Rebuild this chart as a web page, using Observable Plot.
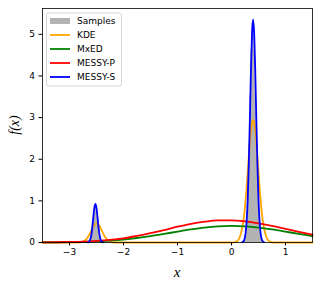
<!DOCTYPE html>
<html><head><meta charset="utf-8">
<script src="https://cdn.jsdelivr.net/npm/d3@7"></script>
<script src="https://cdn.jsdelivr.net/npm/@observablehq/plot@0.6"></script>
<style>body{margin:0;background:#fff}</style>
</head><body><div id="chart"></div>
<script>
// ---- data ----
const xTicks = [-3, -2, -1, 0, 1];
const yTicks = [0, 1, 2, 3, 4, 5];
const seriesNames = ["Samples", "KDE", "MxED", "MESSY-P", "MESSY-S"];

// histogram of samples: bin edges and bin heights (two clusters)
const samplesLeftEdges = [-2.66, -2.64, -2.62, -2.60, -2.58, -2.56, -2.54, -2.52, -2.50, -2.48, -2.46, -2.44, -2.42, -2.40, -2.38];
const samplesLeftHeights = [0.008, 0.03, 0.094, 0.23, 0.46, 0.72, 0.90, 0.90, 0.72, 0.46, 0.23, 0.094, 0.03, 0.008];
const samplesRightEdges = [0.22, 0.24, 0.26, 0.28, 0.30, 0.32, 0.34, 0.36, 0.38, 0.40, 0.42, 0.44, 0.46, 0.48, 0.50, 0.52, 0.54, 0.56, 0.58];
const samplesRightHeights = [0.045, 0.13, 0.33, 0.73, 1.40, 2.38, 3.55, 4.62, 5.27, 5.27, 4.62, 3.55, 2.38, 1.40, 0.73, 0.33, 0.13, 0.045];

// KDE
const kdeX = [-3.5, -2.85, -2.8, -2.75, -2.7, -2.65, -2.6, -2.55, -2.5, -2.45, -2.4, -2.35, -2.3, -2.25, -2.2, -2.15,
  0.0, 0.05, 0.1, 0.125, 0.15, 0.175, 0.2, 0.225, 0.25, 0.275, 0.3, 0.325, 0.35, 0.375, 0.4,
  0.425, 0.45, 0.475, 0.5, 0.525, 0.55, 0.575, 0.6, 0.625, 0.65, 0.675, 0.7, 0.75, 0.8, 1.5];
const kdeY = [0, 0, 0.005, 0.02, 0.062, 0.149, 0.279, 0.406, 0.46, 0.406, 0.279, 0.149, 0.062, 0.02, 0.005, 0,
  0, 0.005, 0.03, 0.06, 0.12, 0.22, 0.36, 0.56, 0.86, 1.24, 1.69, 2.15, 2.56, 2.84, 2.94,
  2.84, 2.56, 2.15, 1.69, 1.24, 0.86, 0.56, 0.36, 0.22, 0.12, 0.06, 0.03, 0.005, 0, 0];

// broad curves on a common grid
const gridX = [-3.5, -3.25, -3.0, -2.75, -2.5, -2.25, -2.0, -1.75, -1.5, -1.25, -1.0, -0.75, -0.5, -0.25, 0.0, 0.25, 0.5, 0.75, 1.0, 1.25, 1.5];
const mxedY = [0.002, 0.004, 0.008, 0.016, 0.027, 0.046, 0.072, 0.108, 0.153, 0.205, 0.261, 0.314, 0.359, 0.389, 0.40, 0.389, 0.359, 0.314, 0.261, 0.205, 0.153];
const messyPY = [0.003, 0.006, 0.012, 0.022, 0.04, 0.065, 0.10, 0.16, 0.225, 0.30, 0.38, 0.45, 0.50, 0.53, 0.533, 0.509, 0.462, 0.399, 0.327, 0.255, 0.189];

// MESSY-S: two sharp peaks
const messySLeftX = [-2.66, -2.64, -2.62, -2.60, -2.58, -2.56, -2.54, -2.52, -2.50, -2.48, -2.46, -2.44, -2.42, -2.40, -2.38];
const messySLeftY = [0.004, 0.016, 0.055, 0.152, 0.335, 0.59, 0.83, 0.93, 0.83, 0.59, 0.335, 0.152, 0.055, 0.016, 0.004];
const messySRightX = [0.20, 0.22, 0.24, 0.26, 0.28, 0.30, 0.32, 0.34, 0.36, 0.38, 0.40, 0.42, 0.44, 0.46, 0.48, 0.50, 0.52, 0.54, 0.56, 0.58, 0.60];
const messySRightY = [0.007, 0.025, 0.078, 0.21, 0.50, 1.03, 1.86, 2.96, 4.12, 5.02, 5.36, 5.02, 4.12, 2.96, 1.86, 1.03, 0.50, 0.21, 0.078, 0.025, 0.007];

// ---- build tables ----
const colors = {"Samples": "gray", "KDE": "orange", "MxED": "green", "MESSY-P": "red", "MESSY-S": "blue"};
function stepTable(edges, heights, seg) {
  return edges.map((e, i) => ({x: e, y: i < heights.length ? heights[i] : 0, seg}));
}
const samplesTable = stepTable(samplesLeftEdges, samplesLeftHeights, "L").concat(stepTable(samplesRightEdges, samplesRightHeights, "R"));
const kdeTable = kdeX.map((x, i) => ({x, y: kdeY[i]}));
const mxedTable = gridX.map((x, i) => ({x, y: mxedY[i]}));
const messyPTable = gridX.map((x, i) => ({x, y: messyPY[i]}));
const messySTable = messySLeftX.map((x, i) => ({x, y: messySLeftY[i], seg: "L"}))
  .concat(messySRightX.map((x, i) => ({x, y: messySRightY[i], seg: "R"})));

const fmt = d => d < 0 ? "\u2212" + Math.abs(d) : String(d);
const lw = 1.8;

const svg = Plot.plot({
  width: 321, height: 286,
  marginLeft: 42, marginRight: 9, marginTop: 8, marginBottom: 44,
  style: {fontFamily: "DejaVu Sans", fontSize: "9px", color: "black", background: "white", overflow: "visible"},
  x: {domain: [-3.5, 1.5]},
  y: {domain: [0, 5.62]},
  marks: [
    Plot.areaY(samplesTable, {x: "x", y: "y", z: "seg", curve: "step-after", fill: colors["Samples"], fillOpacity: 0.6}),
    Plot.lineY(kdeTable, {x: "x", y: "y", stroke: colors["KDE"], strokeWidth: lw, curve: "monotone-x"}),
    Plot.lineY(mxedTable, {x: "x", y: "y", stroke: colors["MxED"], strokeWidth: lw, curve: "monotone-x"}),
    Plot.lineY(messyPTable, {x: "x", y: "y", stroke: colors["MESSY-P"], strokeWidth: lw, curve: "monotone-x"}),
    Plot.lineY(messySTable, {x: "x", y: "y", z: "seg", stroke: colors["MESSY-S"], strokeWidth: lw, curve: "monotone-x"}),
    Plot.frame({stroke: "black", strokeWidth: 0.8}),
    Plot.axisX({ticks: xTicks, tickSize: 3.5, tickPadding: 3, tickFormat: fmt, label: null}),
    Plot.axisY({ticks: yTicks, tickSize: 3.5, tickPadding: 4, tickFormat: fmt, label: null})
  ]
});
document.getElementById("chart").appendChild(svg);

// ---- axis labels ----
const s = d3.select(svg);
s.append("text").attr("transform", "translate(14,125) rotate(-90)")
  .attr("text-anchor", "middle").attr("dominant-baseline", "central")
  .style("font-family", "Liberation Serif").style("font-style", "italic").style("font-size", "14px")
  .text("f(x)");
s.append("text").attr("x", 177).attr("y", 272)
  .attr("text-anchor", "middle").attr("dominant-baseline", "central")
  .style("font-family", "Liberation Serif").style("font-style", "italic").style("font-size", "15px")
  .text("x");

// ---- legend ----
const lg = s.append("g").attr("text-anchor", "start");
lg.append("rect").attr("x", 46.5).attr("y", 13).attr("width", 75).attr("height", 73).attr("rx", 2)
  .attr("fill", "white").attr("fill-opacity", 0.8).attr("stroke", "#cccccc").attr("stroke-width", 0.8);
seriesNames.forEach((name, i) => {
  const cy = 21 + i * 14;
  if (name === "Samples") {
    lg.append("rect").attr("x", 50).attr("y", cy - 3).attr("width", 20).attr("height", 6)
      .attr("fill", colors[name]).attr("fill-opacity", 0.6);
  } else {
    lg.append("line").attr("x1", 50).attr("x2", 70).attr("y1", cy).attr("y2", cy)
      .attr("stroke", colors[name]).attr("stroke-width", lw);
  }
  lg.append("text").attr("x", 77).attr("y", cy).attr("dominant-baseline", "central")
    .attr("text-anchor", "start")
    .style("font-family", "DejaVu Sans").style("font-size", "9px").attr("fill", "black").text(name);
});
</script></body></html>
